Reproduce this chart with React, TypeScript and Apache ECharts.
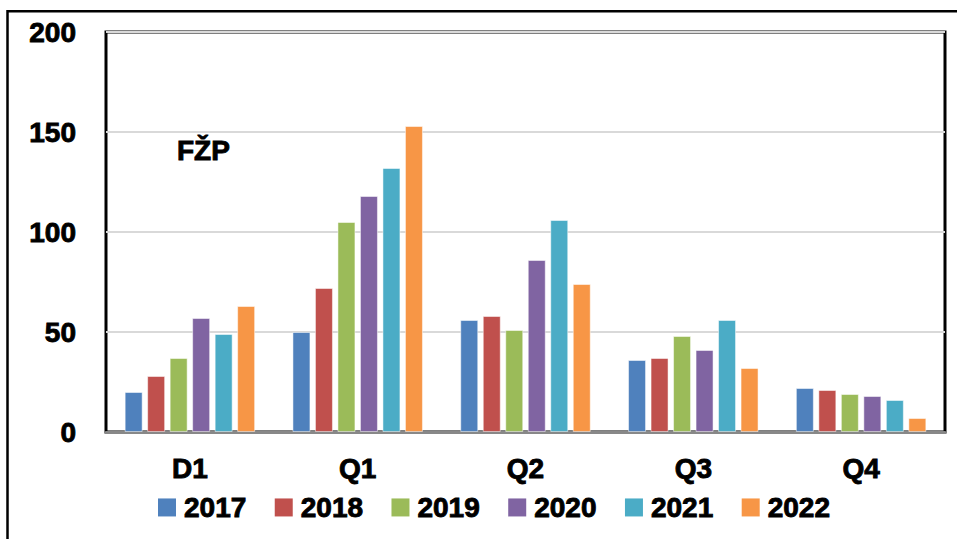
import React, { useEffect, useRef } from "react";
import * as echarts from "echarts";

const categories = ["D1", "Q1", "Q2", "Q3", "Q4"];
const years = ["2017", "2018", "2019", "2020", "2021", "2022"];
const s2017 = [20, 50, 56, 36, 22];
const s2018 = [28, 72, 58, 37, 21];
const s2019 = [37, 105, 51, 48, 19];
const s2020 = [57, 118, 86, 41, 18];
const s2021 = [49, 132, 106, 56, 16];
const s2022 = [63, 153, 74, 32, 7];
const seriesValues = [s2017, s2018, s2019, s2020, s2021, s2022];
const colors = ["#4F81BD", "#C0504D", "#9BBB59", "#8064A2", "#4BACC6", "#F79646"];
const chartLabel = "FŽP";

const FONT = "'Liberation Sans', Arial, sans-serif";
const bold = { textBorderColor: "#000", textBorderWidth: 0.9 };

export default function App() {
  const ref = useRef<HTMLDivElement>(null);
  useEffect(() => {
    if (!ref.current) return;
    const chart = echarts.init(ref.current, null, { renderer: "svg" });
    chart.setOption({
      animation: false,
      backgroundColor: "#ffffff",
      color: colors,
      grid: {
        left: 106,
        right: 12,
        top: 32,
        bottom: 107,
        show: true,
        borderColor: "#000000",
        borderWidth: 3,
        outerBoundsMode: "none",
      },
      legend: {
        data: years,
        left: 158,
        top: 493,
        padding: 0,
        itemWidth: 18,
        itemHeight: 18,
        itemGap: 28,
        icon: "rect",
        itemStyle: { borderWidth: 0 },
        textStyle: {
          fontFamily: FONT,
          fontWeight: "bold",
          fontSize: 28,
          lineHeight: 28,
          color: "#000",
          padding: [0, 0, 0, 3],
          ...bold,
        },
      },
      xAxis: {
        type: "category",
        data: categories,
        axisTick: { show: false },
        axisLine: { show: true, lineStyle: { color: "#888888", width: 3 } },
        axisLabel: {
          fontFamily: FONT,
          fontWeight: "bold",
          fontSize: 28,
          color: "#000",
          margin: 22,
          ...bold,
        },
      },
      yAxis: {
        type: "value",
        min: 0,
        max: 200,
        interval: 50,
        axisLine: { show: false },
        axisTick: { show: false },
        splitLine: { lineStyle: { color: "#d9d9d9", width: 2 } },
        axisLabel: {
          fontFamily: FONT,
          fontWeight: "bold",
          fontSize: 28,
          color: "#000",
          margin: 30,
          ...bold,
        },
      },
      series: years.map((y, i) => ({
        name: y,
        type: "bar",
        data: seriesValues[i],
        barWidth: 18,
        barGap: "25%",
        itemStyle: { color: colors[i], borderColor: "rgba(255,255,255,0.5)", borderWidth: 1 },
      })),
      graphic: [
        {
          type: "polyline",
          shape: { points: [[7.5, 545], [7.5, 11.3], [960, 11.3]] },
          style: { stroke: "#000", lineWidth: 2.5, fill: null },
          z: 100,
        },
        {
          type: "text",
          x: 177,
          y: 150,
          style: {
            text: chartLabel,
            font: `bold 28px ${FONT}`,
            fill: "#000",
            stroke: "#000",
            lineWidth: 0.9,
            textAlign: "left",
            textVerticalAlign: "middle",
            verticalAlign: "middle",
          },
          z: 100,
        },
      ],
    });
    return () => chart.dispose();
  }, []);
  return <div ref={ref} style={{ width: 957, height: 539, position: "fixed", left: 0, top: 0 }} />;
}
